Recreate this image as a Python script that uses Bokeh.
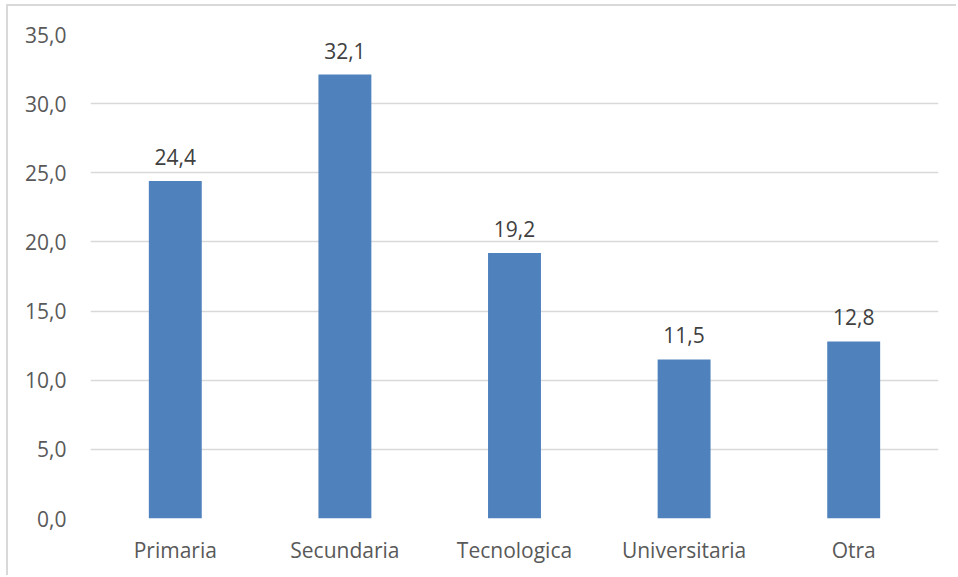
from bokeh.plotting import figure
from bokeh.models import ColumnDataSource, LabelSet, CustomJSTickFormatter, FactorRange
from bokeh.core.properties import value
from bokeh.embed import file_html
from bokeh.resources import INLINE

categories = ["Primaria", "Secundaria", "Tecnologica", "Universitaria", "Otra"]
values = [24.4, 32.1, 19.2, 11.5, 12.8]
y_ticks = [0, 5, 10, 15, 20, 25, 30, 35]

labels = [f"{v:.1f}".replace(".", ",") for v in values]
src = ColumnDataSource(dict(cat=categories, val=values, lab=labels))

FONT = "Open Sans"
TXT = "#595959"
GRID = "#D9D9D9"

p = figure(x_range=FactorRange(*categories, range_padding=0), y_range=(0, 35),
           width=950, height=571, output_backend="svg", toolbar_location=None,
           min_border_left=82, min_border_right=20, min_border_top=28, min_border_bottom=59)
p.styles = {"border-top": f"2px solid {GRID}", "border-left": f"2px solid {GRID}",
            "margin-top": "4px", "margin-left": "6px"}
p.outline_line_color = None
p.background_fill_color = "white"
p.border_fill_color = "white"

p.vbar(x="cat", top="val", width=0.312, source=src, color="#4F81BD", line_color=None)

p.add_layout(LabelSet(x="cat", y="val", text="lab", source=src, text_align="center",
                      text_baseline="middle", y_offset=24, text_font=value(FONT),
                      text_font_size="21px", text_color="#404040"))

p.yaxis.ticker = y_ticks
p.yaxis.formatter = CustomJSTickFormatter(code="return tick.toFixed(1).replace('.', ',');")
p.ygrid.grid_line_color = GRID
p.ygrid.grid_line_width = 1.5
p.xgrid.grid_line_color = None

for ax in (p.xaxis, p.yaxis):
    ax.axis_line_color = None
    ax.major_tick_line_color = None
    ax.minor_tick_line_color = None
    ax.major_label_text_font = FONT
    ax.major_label_text_font_size = "21px"
    ax.major_label_text_color = TXT

p.yaxis.major_label_standoff = 18
p.xaxis.major_label_standoff = 11

open("out.html", "w").write(file_html(p, INLINE))
